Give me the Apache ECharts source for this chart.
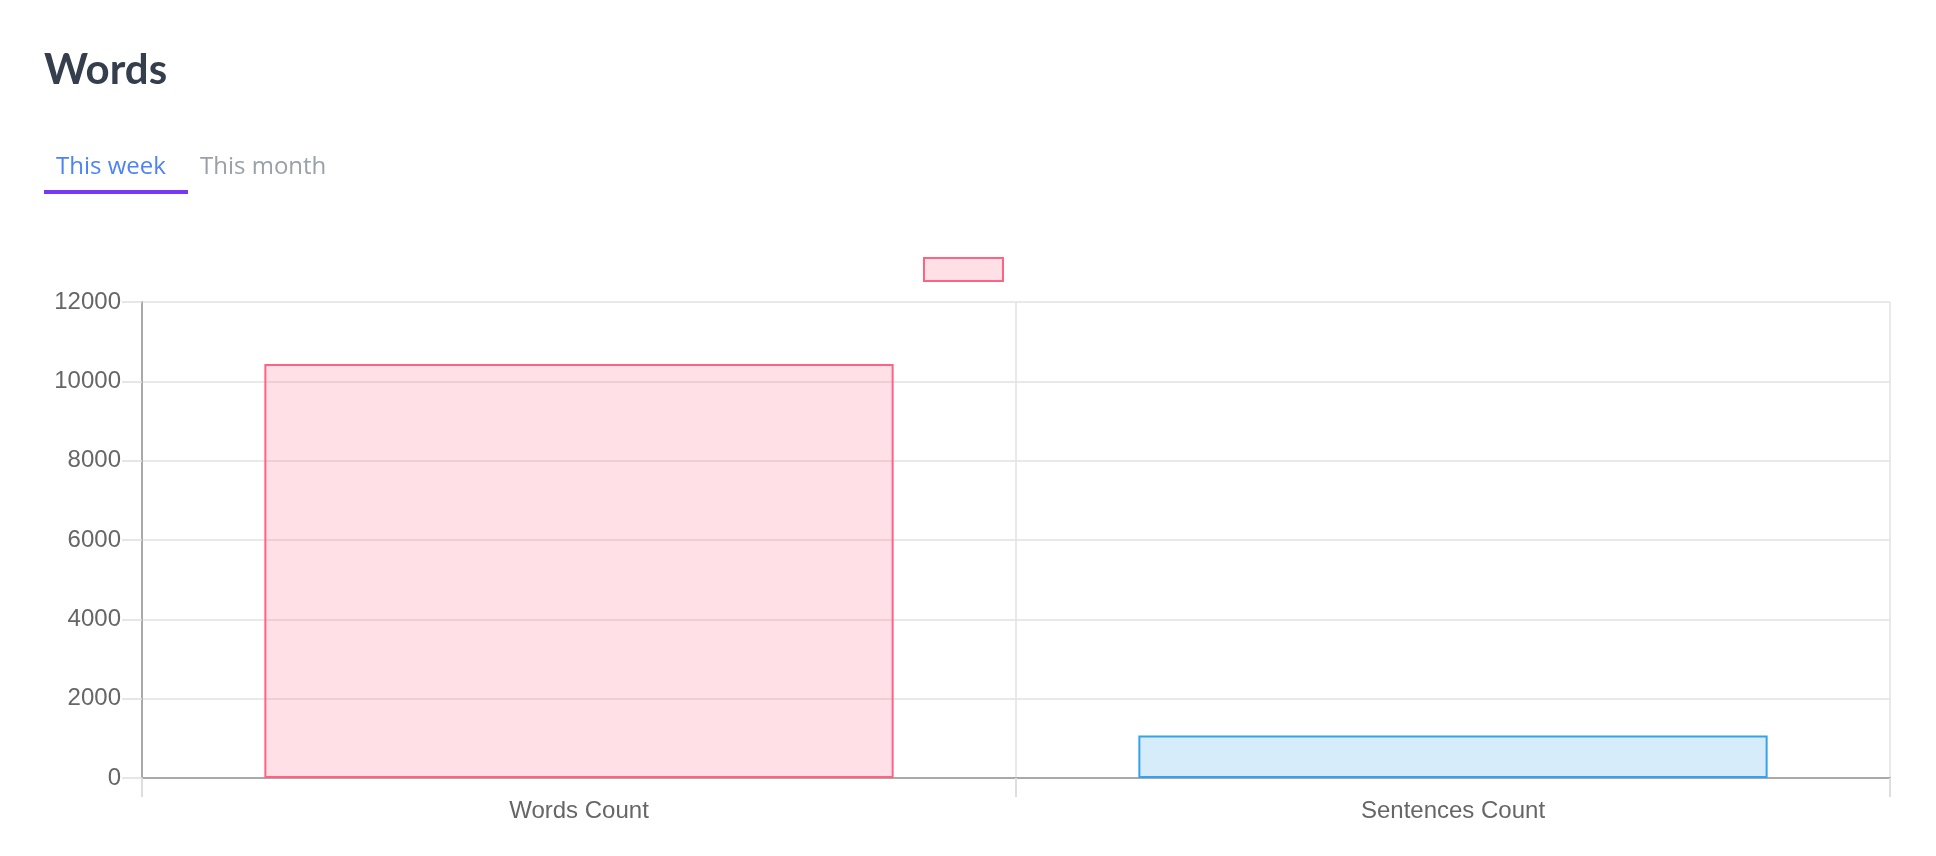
<!DOCTYPE html>
<html>
<head>
<meta charset="utf-8">
<style>
  html, body { margin: 0; padding: 0; background: #ffffff; }
  #chart { width: 1936px; height: 856px; }
</style>
<script src="https://cdn.jsdelivr.net/npm/echarts@6/dist/echarts.min.js"></script>
</head>
<body>
<div id="chart"></div>
<script>
// ---- data ----
const categories = ['Words Count', 'Sentences Count'];
const values = [10440, 1070];
const fillColors = ['rgba(255,99,132,0.2)', 'rgba(54,162,235,0.2)'];
const borderColors = ['#ff6384', '#36a2eb'];
const yTicks = { min: 0, max: 12000, interval: 2000 };
const titleText = 'Words';
const tabs = ['This week', 'This month'];

const chart = echarts.init(document.getElementById('chart'), null, { renderer: 'canvas' });

const labelFont = '"Liberation Sans", Arial, Helvetica, sans-serif';
const headFont = '"Open Sans", "Noto Sans", sans-serif';

const option = {
  backgroundColor: '#ffffff',
  animation: false,
  graphic: [
    {
      type: 'text', left: 44, top: 49,
      style: { text: titleText, font: 'bold 42px Lato, "Open Sans", sans-serif', fill: '#343e4c' }
    },
    {
      type: 'text', left: 56, top: 155,
      style: { text: tabs[0], font: '24px ' + headFont, fill: '#4d82fb' }
    },
    {
      type: 'text', left: 200, top: 155,
      style: { text: tabs[1], font: '24px ' + headFont, fill: '#9aa0a8' }
    },
    {
      type: 'rect', left: 44, top: 190,
      shape: { width: 144, height: 4 },
      style: { fill: '#7836f6' }
    }
  ],
  legend: {
    show: true,
    left: 923, top: 257,
    padding: 0,
    itemWidth: 79, itemHeight: 23,
    icon: 'rect',
    formatter: function () { return ''; },
    data: [{ name: 'data' }],
    itemStyle: { color: fillColors[0], borderColor: borderColors[0], borderWidth: 2 }
  },
  grid: { left: 142, right: 46, top: 302, bottom: 78 },
  xAxis: {
    type: 'category',
    data: categories,
    boundaryGap: true,
    axisLine: { show: true, lineStyle: { color: '#a9a9a9', width: 2 } },
    axisTick: { show: true, alignWithLabel: false, length: 19, lineStyle: { color: '#dedede', width: 2 } },
    splitLine: { show: true, lineStyle: { color: '#e2e2e2', width: 1.5 } },
    axisLabel: { color: '#666666', fontSize: 24, fontFamily: labelFont, margin: 21 }
  },
  yAxis: {
    type: 'value',
    min: yTicks.min, max: yTicks.max, interval: yTicks.interval,
    axisLine: { show: true, lineStyle: { color: '#a9a9a9', width: 2 } },
    axisTick: { show: true, length: 20, lineStyle: { color: '#dedede', width: 1.5 } },
    splitLine: { show: true, lineStyle: { color: '#e2e2e2', width: 1.5 } },
    axisLabel: {
      color: '#666666', fontSize: 24, fontFamily: labelFont, margin: 21,
      formatter: function (v) { return String(v); }
    }
  },
  series: [
    {
      name: 'data',
      type: 'bar',
      barWidth: '72%',
      itemStyle: { color: fillColors[0], borderColor: borderColors[0], borderWidth: 2 },
      data: values.map(function (v, i) {
        return {
          value: v,
          itemStyle: { color: fillColors[i], borderColor: borderColors[i], borderWidth: 2 }
        };
      })
    }
  ]
};

chart.setOption(option);
</script>
</body>
</html>
